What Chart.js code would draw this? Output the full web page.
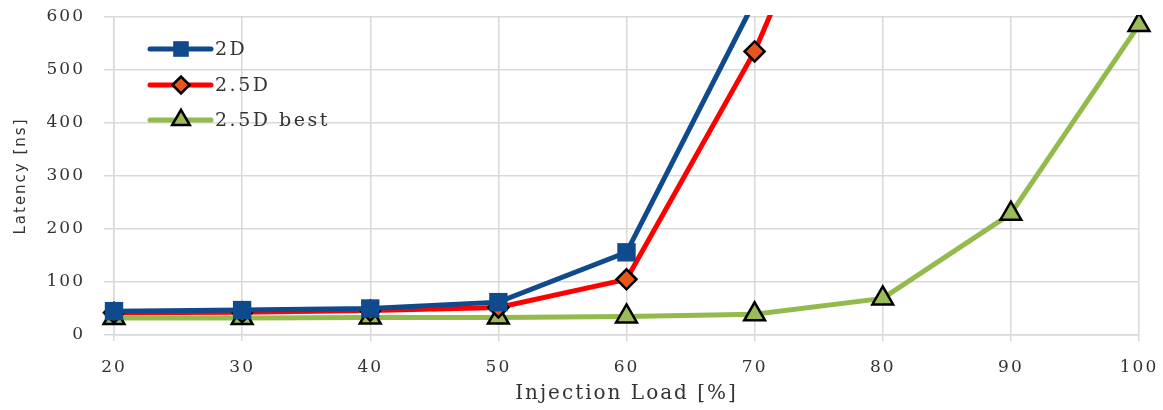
<!DOCTYPE html>
<html>
<head>
<meta charset="utf-8">
<script src="https://cdn.jsdelivr.net/npm/chart.js@4.4.1/dist/chart.umd.min.js"></script>
<style>
  html, body { margin: 0; padding: 0; background: #fff; }
  #wrap { width: 1163px; height: 410px; position: relative; }
</style>
</head>
<body>
<div id="wrap"><canvas id="c" width="1163" height="410"></canvas></div>
<script>
const categories = ['20', '30', '40', '50', '60', '70', '80', '90', '100'];
const series2D = [45, 47, 50, 62, 156, 630, null, null, null];
const series25D = [42, 43, 46, 52, 105, 535, 1100, null, null];
const series25DBest = [32, 32, 33, 33, 35, 39, 69, 229, 585];
const yTicks = [0, 100, 200, 300, 400, 500, 600];
const seriesNames = ['2D', '2.5D', '2.5D best'];

const serif = "'DejaVu Serif', 'Liberation Serif', serif";

function drawMarker(ctx, style, r, x, y, fill, stroke, bw) {
  ctx.save();
  ctx.beginPath();
  if (style === 'rect') {
    const s = Math.SQRT1_2 * r;
    ctx.rect(x - s, y - s, 2 * s, 2 * s);
  } else if (style === 'rectRot') {
    ctx.moveTo(x - r, y); ctx.lineTo(x, y - r); ctx.lineTo(x + r, y); ctx.lineTo(x, y + r); ctx.closePath();
  } else if (style === 'triangle') {
    let a = 0;
    ctx.moveTo(x + Math.sin(a) * r, y - Math.cos(a) * r);
    a += 2 * Math.PI / 3;
    ctx.lineTo(x + Math.sin(a) * r, y - Math.cos(a) * r);
    a += 2 * Math.PI / 3;
    ctx.lineTo(x + Math.sin(a) * r, y - Math.cos(a) * r);
    ctx.closePath();
  }
  ctx.fillStyle = fill; ctx.fill();
  if (bw > 0) { ctx.lineWidth = bw; ctx.strokeStyle = stroke; ctx.stroke(); }
  ctx.restore();
}

function setSpacing(chart) {
  try { chart.ctx.letterSpacing = '2px'; } catch (e) {}
}

const spacingPlugin = {
  id: 'spacing',
  beforeLayout(chart) { setSpacing(chart); },
  beforeDraw(chart) { setSpacing(chart); }
};

const legendPlugin = {
  id: 'insideLegend',
  afterDraw(chart) {
    const ctx = chart.ctx;
    const ys = [49, 85, 120];
    chart.data.datasets.forEach((ds, i) => {
      const y = ys[i];
      ctx.save();
      ctx.strokeStyle = ds.borderColor;
      ctx.lineWidth = ds.borderWidth;
      ctx.lineCap = 'round';
      ctx.beginPath(); ctx.moveTo(150, y); ctx.lineTo(211, y); ctx.stroke();
      ctx.restore();
      drawMarker(ctx, ds.pointStyle, ds.pointRadius * 0.85, 181, y, ds.pointBackgroundColor, ds.pointBorderColor, ds.pointBorderWidth);
      ctx.save();
      ctx.fillStyle = '#333';
      ctx.font = "19px " + serif;
      try { ctx.letterSpacing = '2.5px'; } catch (e) {}
      ctx.textBaseline = 'middle';
      ctx.fillText(ds.label, 215, y + 1);
      ctx.restore();
    });
  }
};

const clip = { left: 20, right: 20, top: 2, bottom: 20 };

new Chart(document.getElementById('c'), {
  type: 'line',
  data: {
    labels: categories,
    datasets: [
      { label: seriesNames[0], data: series2D, borderColor: '#0F4A8C', borderWidth: 5,
        pointStyle: 'rect', pointRadius: 13, pointBackgroundColor: '#0F4A8C', pointBorderColor: '#0F4A8C', pointBorderWidth: 0,
        tension: 0, clip: clip, spanGaps: false },
      { label: seriesNames[1], data: series25D, borderColor: '#FF0000', borderWidth: 5,
        pointStyle: 'rectRot', pointRadius: 10, pointBackgroundColor: '#E8561C', pointBorderColor: '#000', pointBorderWidth: 2.5,
        tension: 0, clip: clip },
      { label: seriesNames[2], data: series25DBest, borderColor: '#92BB4C', borderWidth: 5,
        pointStyle: 'triangle', pointRadius: 12, pointBackgroundColor: '#9BBB59', pointBorderColor: '#000', pointBorderWidth: 2.5,
        tension: 0, clip: clip }
    ]
  },
  options: {
    responsive: false,
    animation: false,
    devicePixelRatio: 1,
    layout: { padding: { left: 6, right: 24, top: 17, bottom: 0 } },
    plugins: { legend: { display: false }, tooltip: { enabled: false } },
    elements: { point: { hoverRadius: 10 } },
    scales: {
      x: {
        type: 'category',
        offset: false,
        grid: { color: '#D9D9D9', lineWidth: 1.5, tickLength: 6, drawTicks: true },
        border: { color: '#D9D9D9', width: 1.5 },
        ticks: { color: '#333', font: { family: serif, size: 17 }, padding: 16, maxRotation: 0, autoSkip: false },
        title: { display: true, text: 'Injection Load [%]', color: '#333', font: { family: serif, size: 20 }, padding: { top: 0, bottom: 4 } },
        afterFit(s) { s.height = 75; s.paddingLeft = 0; s.paddingRight = 0; }
      },
      y: {
        min: 0, max: 600,
        afterBuildTicks(s) { s.ticks = yTicks.map(v => ({ value: v })); },
        grid: { color: '#D9D9D9', lineWidth: 1.5, tickLength: 10 },
        border: { color: '#D9D9D9', width: 1.5 },
        ticks: { color: '#333', font: { family: serif, size: 17 }, padding: 19 },
        title: { display: true, text: 'Latency [ns]', color: '#333', font: { family: "'DejaVu Sans', sans-serif", size: 15 }, padding: { top: 6, bottom: 4 } },
        afterFit(s) { s.width = 108; s.paddingTop = 0; s.paddingBottom = 0; }
      }
    }
  },
  plugins: [spacingPlugin, legendPlugin]
});
</script>
</body>
</html>
